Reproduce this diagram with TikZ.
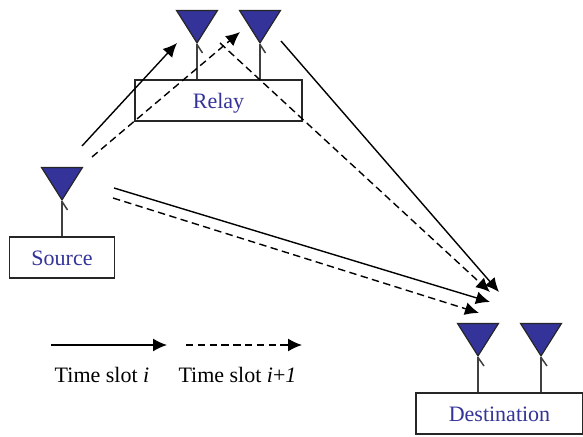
\documentclass[tikz,border=0pt]{standalone}
\usepackage{fontspec}
\setmainfont{Liberation Serif}
\usetikzlibrary{arrows.meta,shapes.geometric}
\definecolor{antblue}{HTML}{333399}
\tikzset{
	antenna/.style={shape=isosceles triangle, shape border rotate=270, isosceles triangle stretches, draw=black!85, fill=antblue, line width=0.6pt, minimum width=20.5pt, minimum height=16.25pt, inner sep=0pt, anchor=apex},
	stem/.style={draw=black!75, line width=0.75pt},
	boxnode/.style={shape=rectangle, draw=black!85, line width=0.7pt, minimum height=20.5pt, inner sep=0pt, text=antblue, text height=8.4pt, text depth=0pt, font=\fontsize{11}{13}\selectfont},
	slotlabel/.style={font=\fontsize{11}{13}\selectfont, inner sep=0pt},
	solidarrow/.style={line width=0.7pt, -{Latex[length=7pt,width=6.5pt]}},
	dashedarrow/.style={line width=0.7pt, dash pattern=on 3.7pt off 2.2pt, -{Latex[length=7pt,width=6.5pt]}}
}

\begin{document}
\begin{tikzpicture}[x=0.5pt, y=-0.5pt]
	\useasboundingbox (0, 0) rectangle (583, 437);

	\node[boxnode, minimum width=52.5pt] (source) at (62, 257.5) {Source};
	\node[boxnode, minimum width=83.5pt] (relay) at (218.5, 100.5) {Relay};
	\node[boxnode, minimum width=83.5pt] (dest) at (499.5, 413.5) {Destination};

	\node[antenna] (aS) at (62, 201.5) {};
	\node[antenna] (aR1) at (197, 44.5) {};
	\node[antenna] (aR2) at (260, 44.5) {};
	\node[antenna] (aD1) at (478, 357.5) {};
	\node[antenna] (aD2) at (541, 357.5) {};

	% stems down to the boxes
	\path[stem] (aS.apex) -- (aS.apex |- source.north);
	\path[stem] (aR1.apex) -- (aR1.apex |- relay.north);
	\path[stem] (aR2.apex) -- (aR2.apex |- relay.north);
	\path[stem] (aD1.apex) -- (aD1.apex |- dest.north);
	\path[stem] (aD2.apex) -- (aD2.apex |- dest.north);

	\coordinate (tS) at (67.5, 210);
	\coordinate (tR1) at (202.5, 53);
	\coordinate (tR2) at (265.5, 53);
	\coordinate (tD1) at (484, 366);
	\coordinate (tD2) at (547, 366);

	\path[stem] (aS.apex) -- (tS);
	\path[stem] (aR1.apex) -- (tR1);
	\path[stem] (aR2.apex) -- (tR2);
	\path[stem] (aD1.apex) -- (tD1);
	\path[stem] (aD2.apex) -- (tD2);

	% free ends of the arrows
	\coordinate (s1) at (82, 146);
	\coordinate (r1in) at (177, 43);
	\coordinate (s2) at (92, 157);
	\coordinate (r2in) at (240, 32);
	\coordinate (s3) at (114, 188);
	\coordinate (d3) at (490, 302);
	\coordinate (s4) at (113, 198);
	\coordinate (d4) at (479, 313);
	\coordinate (r2out) at (281, 41);
	\coordinate (d2) at (499, 292);
	\coordinate (r1out) at (220, 43);
	\coordinate (d1) at (490, 292);

	\draw[solidarrow] (s1) -- (r1in);
	\draw[dashedarrow] (s2) -- (r2in);
	\draw[solidarrow] (s3) -- (d3);
	\draw[dashedarrow] (s4) -- (d4);
	\draw[solidarrow] (r2out) -- (d2);
	\draw[dashedarrow] (r1out) -- (d1);

	% legend
	\coordinate (L1a) at (51, 345);
	\coordinate (L1b) at (167, 345);
	\coordinate (L2a) at (186, 345);
	\coordinate (L2b) at (302, 345);

	\draw[solidarrow] (L1a) -- (L1b);
	\draw[dashedarrow] (L2a) -- (L2b);

	\node[slotlabel] (slot1) at (102, 374.5) {Time slot \textit{i}};
	\node[slotlabel] (slot2) at (237.5, 374.5) {Time slot \textit{i}+\textit{1}};
\end{tikzpicture}
\end{document}
